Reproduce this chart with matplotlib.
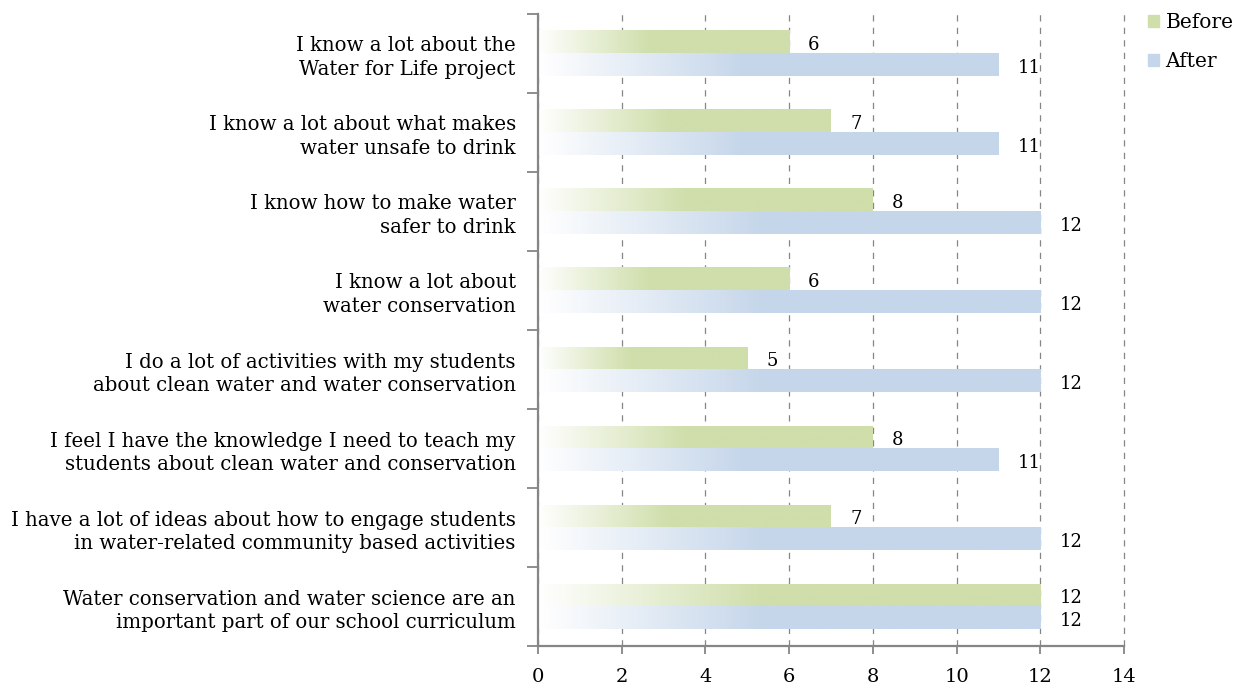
import numpy as np
import matplotlib
matplotlib.use('Agg')
import matplotlib.pyplot as plt
from matplotlib.colors import LinearSegmentedColormap
from matplotlib.patches import Patch

plt.rcParams['font.family'] = ['DejaVu Serif']

# survey statements, top to bottom
statements = [
    'I know a lot about the\nWater for Life project',
    'I know a lot about what makes\nwater unsafe to drink',
    'I know how to make water\nsafer to drink',
    'I know a lot about\nwater conservation',
    'I do a lot of activities with my students\nabout clean water and water conservation',
    'I feel I have the knowledge I need to teach my\nstudents about clean water and conservation',
    'I have a lot of ideas about how to engage students\nin water-related community based activities',
    'Water conservation and water science are an\nimportant part of our school curriculum',
]
before = [6, 7, 8, 6, 5, 8, 7, 12]
after = [11, 11, 12, 12, 12, 11, 12, 12]

green = '#cfdeaa'
blue = '#c5d6ea'
grey = '#868686'

fig = plt.figure(figsize=(12.42, 6.88), dpi=100)
ax = fig.add_axes([0.4332, 0.061, 0.4718, 0.9187])

y = np.arange(len(statements))
h = 0.285

bars_b = ax.barh(y - h / 2, before, height=h, color='none', edgecolor='none')
bars_a = ax.barh(y + h / 2, after, height=h, color='none', edgecolor='none')

# horizontal gradient: pale at the left, full colour from ~45% of the bar length
def fill_gradient(bars, color):
    cmap = LinearSegmentedColormap.from_list(
        'g', [(0.0, '#ffffff'), (0.45, color), (1.0, color)])
    grad = np.linspace(0, 1, 256).reshape(1, -1)
    for b in bars:
        x0, y0 = b.get_x(), b.get_y()
        ax.imshow(grad, cmap=cmap, aspect='auto', interpolation='bilinear',
                  extent=(x0, x0 + b.get_width(), y0 + b.get_height(), y0),
                  zorder=2)

fill_gradient(bars_b, green)
fill_gradient(bars_a, blue)

for bars, vals in ((bars_b, before), (bars_a, after)):
    for b, v in zip(bars, vals):
        ax.annotate(str(v), (b.get_x() + b.get_width(), b.get_y() + b.get_height() / 2),
                    xytext=(19, -3), textcoords='offset pixels',
                    ha='left', va='center', fontsize=13, zorder=3)

ax.set_xlim(0, 14)
ax.set_ylim(len(statements) - 0.5, -0.5)
ax.set_xticks(np.arange(0, 15, 2))
ax.set_yticks(y)
ax.set_yticklabels(statements, fontsize=14.2, linespacing=1.32)
ax.set_yticks(np.arange(-0.5, len(statements)), minor=True)
ax.tick_params(axis='y', which='major', length=0, pad=16)
ax.tick_params(axis='y', which='minor', length=8, color=grey, width=1.3)
ax.tick_params(axis='x', length=6, color=grey, width=1.3, labelsize=14, pad=10)

ax.grid(axis='x', linestyle=(0, (5, 5)), color=grey, linewidth=0.9)
ax.set_axisbelow(True)
for line in ax.get_xgridlines():
    line.set_clip_on(False)
for s in ('top', 'right'):
    ax.spines[s].set_visible(False)
for s in ('left', 'bottom'):
    ax.spines[s].set_color(grey)
    ax.spines[s].set_linewidth(1.6)

handles = [Patch(color=green), Patch(color=blue)]
fig.legend(handles, ['Before', 'After'], loc='upper left',
           bbox_to_anchor=(0.91, 1.007), frameon=False, fontsize=14.5,
           handlelength=0.55, handleheight=0.55, handletextpad=0.3,
           labelspacing=1.0)

fig.savefig('out.png', dpi=100)
